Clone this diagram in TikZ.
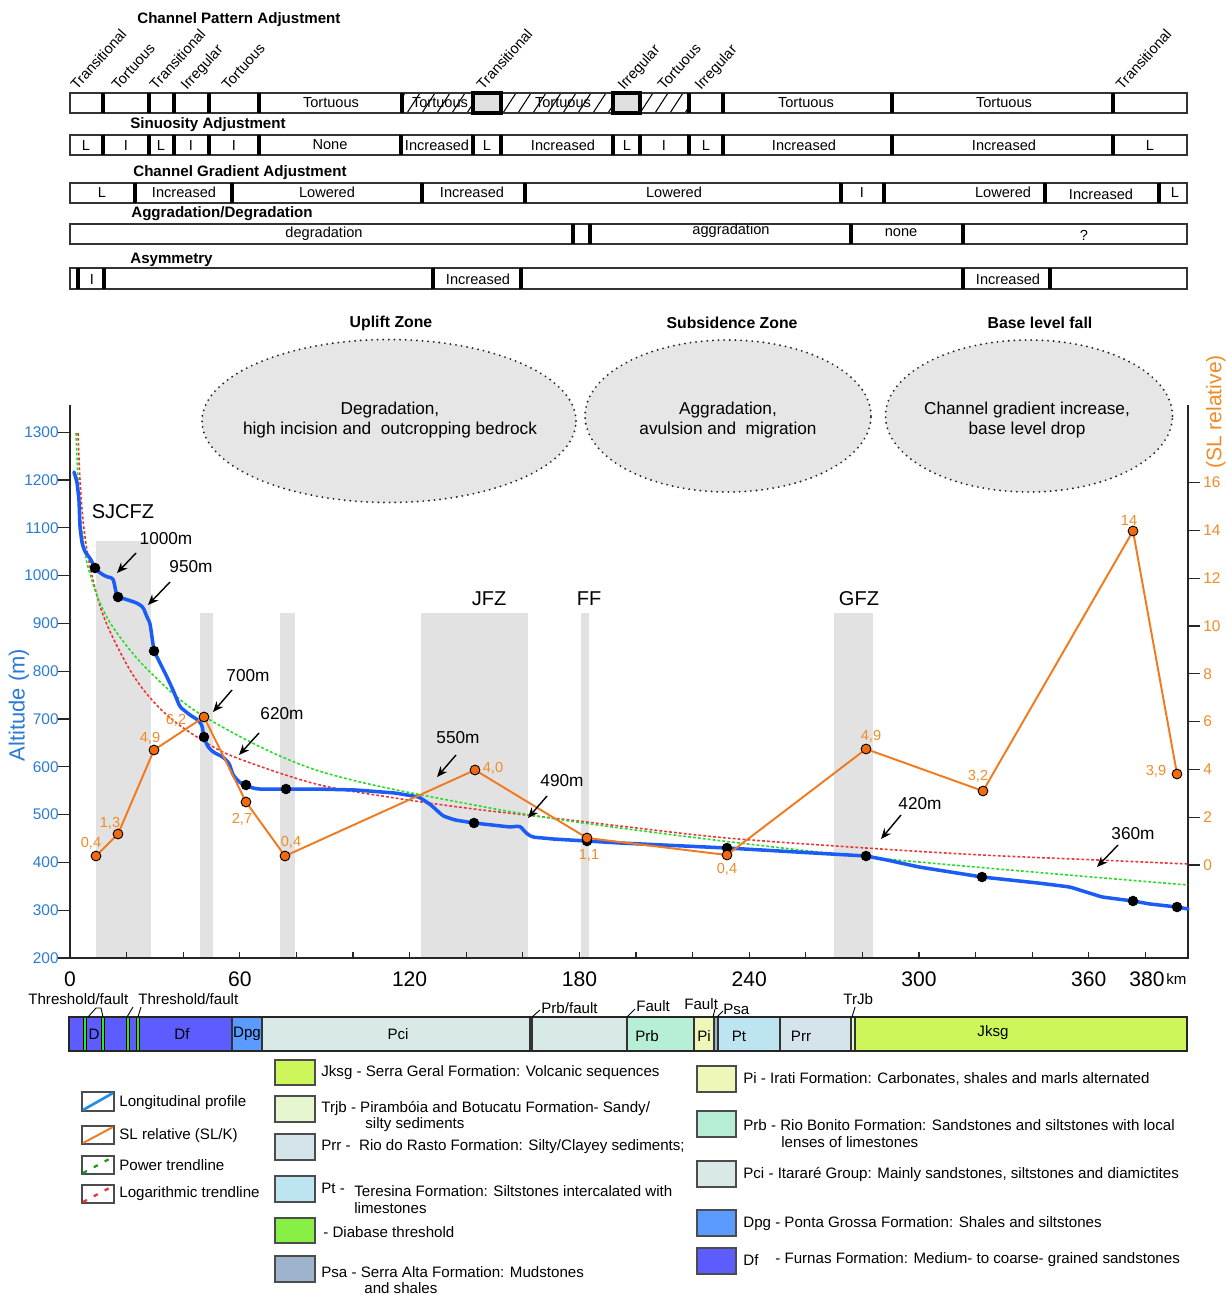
\documentclass[tikz,border=0pt]{standalone}
\usepackage{fontspec}
\setmainfont{Liberation Sans}
\usetikzlibrary{arrows.meta,shapes.geometric}
\definecolor{profblue}{HTML}{1B5CF5}
\definecolor{legblue}{HTML}{1E90E8}
\definecolor{slorange}{HTML}{F27A1E}
\definecolor{dotorange}{HTML}{F26A10}
\definecolor{axblue}{HTML}{2B7BD6}
\definecolor{axorange}{HTML}{F08C28}
\definecolor{bandgray}{HTML}{E2E2E2}
\definecolor{ellfill}{HTML}{E6E6E6}
\definecolor{cellgray}{HTML}{E0E0E0}
\definecolor{trgreen}{HTML}{22DD22}
\definecolor{trred}{HTML}{EE3333}
\definecolor{gdf}{HTML}{5C5CFF}
\definecolor{gdpg}{HTML}{5B9BFF}
\definecolor{gpci}{HTML}{D9E9E8}
\definecolor{gprb}{HTML}{B6EED6}
\definecolor{gpi}{HTML}{EEF7B8}
\definecolor{gpsa}{HTML}{9DB4CC}
\definecolor{gpt}{HTML}{BDE5F1}
\definecolor{gprr}{HTML}{D5E3EB}
\definecolor{gtrjb}{HTML}{E6F7D0}
\definecolor{gjksg}{HTML}{CCF65A}
\definecolor{gdiab}{HTML}{88F044}
\definecolor{gstripe}{HTML}{22EE22}
\newcommand{\fsA}{\fontsize{8.6}{10}\selectfont}
\newcommand{\fsT}{\fontsize{8.3}{10}\selectfont}
\newcommand{\fsB}{\fontsize{9.8}{11.4}\selectfont}
\newcommand{\fsC}{\fontsize{11.4}{13}\selectfont}
\newcommand{\fsD}{\fontsize{12}{14}\selectfont}
\begin{document}
\begin{tikzpicture}[x=0.02cm,y=-0.02cm,
  tbl/.style={draw=black!80, line width=0.7pt},
  dv/.style={line width=2.3pt},
  ct/.style={font=\fsT, inner sep=0pt},
  ttl/.style={font=\fsA\bfseries, anchor=west, inner sep=0pt},
  rl/.style={rotate=48, anchor=base west, font=\fsT, inner sep=0pt},
  hatchln/.style={line width=0.6pt},
  zone/.style={ellipse, draw=black!85, fill=ellfill, dash pattern=on 0pt off 3.2pt, line cap=round, line width=1.2pt, inner sep=0pt},
  zt/.style={font=\fsB, align=center, inner sep=0pt},
  zhead/.style={font=\fontsize{9}{11}\selectfont\bfseries, inner sep=0pt},
  fz/.style={font=\fsC, inner sep=0pt},
  arr/.style={-{Stealth[length=6pt,width=5pt]}, line width=0.8pt},
  ml/.style={font=\fsB, inner sep=0pt},
  ol/.style={font=\fontsize{8.3}{10}\selectfont, text=axorange, inner sep=0pt},
  lg/.style={font=\fsA, anchor=west, inner sep=0pt},
  sw/.style={draw=black!70, line width=0.6pt},
  gl/.style={font=\fsA, inner sep=0pt}]
\useasboundingbox (0,0) rectangle (1225,1294);
\fill[white] (0,0) rectangle (1225,1294);

% ---------- Row titles ----------
\node[ttl] (tt1) at (137,20) {Channel Pattern Adjustment};
\node[ttl] (tt2) at (130,125) {Sinuosity Adjustment};
\node[ttl] (tt3) at (133,173) {Channel Gradient Adjustment};
\node[ttl] (tt4) at (131,214) {Aggradation/Degradation};
\node[ttl] (tt5) at (130,260) {Asymmetry};

% ---------- Row 1 ----------
\fill[cellgray] (473,93) rectangle (501,113);
\fill[cellgray] (613,93) rectangle (640,113);
\begin{scope}
  \clip (402,93) rectangle (473,113);
  \foreach \h in {392,407,...,482} \draw[hatchln] (\h,113) -- ++(13,-20);
\end{scope}
\begin{scope}
  \clip (501,93) rectangle (613,113);
  \foreach \h in {503,518,...,623} \draw[hatchln] (\h,113) -- ++(13,-20);
\end{scope}
\begin{scope}
  \clip (640,93) rectangle (689,113);
  \foreach \h in {640,655,...,700} \draw[hatchln] (\h,113) -- ++(13,-20);
\end{scope}
\draw[tbl] (70,93) rectangle (1187,113);
\foreach \d in {103,149,174,209,259,402,473,501,613,640,689,723,892,1113} \draw[dv] (\d,93) -- (\d,113);
\draw[dv] (473,93) rectangle (501,113);
\draw[dv] (613,93) rectangle (640,113);
\foreach \x/\t [count=\i] in {331/Tortuous,440/Tortuous,563/Tortuous,806/Tortuous,1004/Tortuous}
  \node[ct] (ra\i) at (\x,103) {\t};
\foreach \x/\t [count=\i] in {77/Transitional,118/Tortuous,156/Transitional,187/Irregular,228/Tortuous,483/Transitional,624/Irregular,664/Tortuous,701/Irregular,1122/Transitional}
  \node[rl] (rl\i) at (\x,91) {\t};

% ---------- Row 2 ----------
\draw[tbl] (70,135) rectangle (1187,155);
\foreach \d in {103,149,174,209,259,401,473,501,613,640,689,723,892,1113} \draw[dv] (\d,135) -- (\d,155);
\foreach \x/\t [count=\i] in {86/L,126/I,161/L,191/I,234/I,330/None,437/Increased,487/L,563/Increased,627/L,664/I,706/L,804/Increased,1004/Increased,1150/L}
  \node[ct] (rb\i) at (\x,145) {\t};

% ---------- Row 3 ----------
\draw[tbl] (70,183) rectangle (1187,203);
\foreach \d in {135,232,422,525,841,884,1045,1159} \draw[dv] (\d,183) -- (\d,203);
\foreach \x/\t [count=\i] in {102/L,184/Increased,327/Lowered,472/Increased,674/Lowered,862/I,1003/Lowered,1175/L}
  \node[ct] (rc\i) at (\x,192) {\t};
\node[ct] (rc9) at (1101,194) {Increased};

% ---------- Row 4 ----------
\draw[tbl] (70,224) rectangle (1187,244);
\foreach \d in {573,590,851,963} \draw[dv] (\d,224) -- (\d,244);
\node[ct] (rd1) at (324,234) {degradation};
\node[ct] (rd2) at (731,231) {aggradation};
\node[ct] (rd3) at (901,233) {none};
\node[ct] (rd4) at (1084,235) {?};

% ---------- Row 5 ----------
\draw[tbl] (70,268) rectangle (1187,289);
\foreach \d in {78,104,433,521,963,1050} \draw[dv] (\d,268) -- (\d,289);
\node[ct] (re1) at (92,279) {I};
\node[ct] (re2) at (478,279) {Increased};
\node[ct] (re3) at (1008,279) {Increased};

% ---------- Zones ----------
\node[zhead] (zh1) at (391,323) {Uplift Zone};
\node[zhead] (zh2) at (732,323) {Subsidence Zone};
\node[zhead] (zh3) at (1040,323) {Base level fall};
\node[zone, minimum width=7.48cm, minimum height=3.26cm] (e1) at (389,421) {};
\node[zone, minimum width=5.72cm, minimum height=3.04cm] (e2) at (728,416) {};
\node[zone, minimum width=5.74cm, minimum height=3.04cm] (e3) at (1029,416) {};
\node[zt] (et1) at (390,420) {Degradation,\\high incision and\ \ outcropping bedrock};
\node[zt] (et2) at (728,420) {Aggradation,\\avulsion and\ \ migration};
\node[zt] (et3) at (1027,420) {Channel gradient increase,\\base level drop};

% ---------- Bands ----------
\fill[bandgray] (96,541) rectangle (151,958);
\fill[bandgray] (200,613) rectangle (213,958);
\fill[bandgray] (280,613) rectangle (295,958);
\fill[bandgray] (421,613) rectangle (528,958);
\fill[bandgray] (581,613) rectangle (589,958);
\fill[bandgray] (834,613) rectangle (873,958);
\node[fz] (fz1) at (123,512) {SJCFZ};
\node[fz] (fz2) at (489,599) {JFZ};
\node[fz] (fz3) at (589,599) {FF};
\node[fz] (fz4) at (859,599) {GFZ};

% ---------- Axes ----------
\draw[line width=0.8pt, black!85] (70,405) -- (70,958) -- (1188,958) -- (1188,405);
\foreach \a in {200,300,...,1300} {
  \draw[line width=0.7pt, black!85] (58,{958-(\a-200)*0.478}) -- (70,{958-(\a-200)*0.478});
  \node[font=\fontsize{8.8}{10}\selectfont, text=axblue, anchor=east, inner sep=0pt] (ya\a) at (59,{958-(\a-200)*0.478}) {\a};
}
\foreach \s in {0,2,...,16} {
  \draw[line width=0.7pt, black!85] (1188,{865-\s*23.9}) -- (1200,{865-\s*23.9});
  \node[font=\fontsize{8.8}{10}\selectfont, text=axorange, anchor=west, inner sep=0pt] (ys\s) at (1203,{865-\s*23.9}) {\s};
}
\foreach \k in {0,20,...,380} \draw[line width=0.7pt, black!85] ({70+\k*2.83},958) -- ({70+\k*2.83},952);
\foreach \k in {0,60,120,180,240,300,360} \node[font=\fsD, inner sep=0pt] (xk\k) at ({70+\k*2.83},979) {\k};
\node[font=\fsD, inner sep=0pt] (xk380) at (1147,979) {380};
\node[font=\fsA, anchor=west, inner sep=0pt] (xkm) at (1166,979) {km};
\node[font=\fontsize{12.5}{14}\selectfont, text=axblue, rotate=90, inner sep=0pt] (ylab) at (19,705) {Altitude (m)};
\node[font=\fsD, text=axorange, rotate=90, inner sep=0pt] (slab) at (1216,412) {(SL relative)};

% ---------- Trendlines ----------
\draw[trred, line width=0.9pt, dash pattern=on 1.6pt off 1.2pt] plot[smooth, tension=0.55] coordinates {(78,433) (80,480) (83,520) (87,550) (93,580) (102,612) (115,642) (133,675) (152,700) (174,721) (205,742) (237,758) (316,784) (395,798) (474,809) (553,818) (620,826) (727,838) (866,848) (982,855) (1098,860) (1188,864)};
\draw[trgreen, line width=0.9pt, dash pattern=on 1.6pt off 1.2pt] plot[smooth, tension=0.55] coordinates {(76,433) (78,480) (80,515) (84,545) (88,567) (100,603) (117,633) (150,672) (205,717) (316,770) (474,805) (620,828) (866,857) (1188,885)};

% ---------- Longitudinal profile ----------
\draw[profblue, line width=2pt, line join=round, line cap=round, rounded corners=1.5pt] (74,472) -- (77,482) -- (79,500) -- (80,527) -- (82,543) -- (85,552) -- (90,558) -- (95,568) -- (100,573) -- (107,577) -- (113,578) -- (115,587) -- (117,597) -- (125,599) -- (137,603) -- (143,607) -- (147,617) -- (150,623) -- (152,637) -- (154,651) -- (160,663) -- (167,677) -- (173,690) -- (180,707) -- (190,715) -- (198,720) -- (202,725) -- (204,738) -- (208,747) -- (213,752) -- (223,757) -- (229,763) -- (233,775) -- (239,782) -- (246,786) -- (257,789) -- (286,789) -- (316,789) -- (356,790) -- (395,793) -- (419,797) -- (431,805) -- (443,816) -- (455,820) -- (474,823) -- (510,827) -- (520,826) -- (526,833) -- (532,837) -- (553,839) -- (587,841) -- (620,843) -- (727,848) -- (866,856) -- (887,860) -- (919,867) -- (982,877) -- (1038,883) -- (1070,887) -- (1102,897) -- (1133,901) -- (1150,904) -- (1177,907) -- (1188,909);
\foreach \x/\y in {95/568,118/597,154/651,204/737,246/785,286/789,474/823,587/841,727/848,866/856,982/877,1133/901,1177/907}
  \fill[black] (\x,\y) circle[radius=3pt];

% ---------- SL relative ----------
\draw[slorange, line width=1.1pt, line join=round] (96,856) -- (118,834) -- (154,750) -- (204,717) -- (246,802) -- (285,856) -- (475,770) -- (587,838) -- (727,855) -- (866,749) -- (983,791) -- (1133,531) -- (1177,774);
\foreach \x/\y in {96/856,118/834,154/750,204/717,246/802,285/856,475/770,587/838,727/855,866/749,983/791,1133/531,1177/774}
  \filldraw[fill=dotorange, draw=black, line width=0.5pt] (\x,\y) circle[radius=2.8pt];
\foreach \x/\y/\t [count=\i] in {91/843/{0,4},110/823/{1,3},150/738/{4,9},176/720/{6,2},242/819/{2,7},291/842/{0,4},493/768/{4,0},589/855/{1,1},727/869/{0,4},871/736/{4,9},978/776/{3,2},1129/520/{14},1156/771/{3,9}}
  \node[ol] (sl\i) at (\x,\y) {\t};

% ---------- Arrows with labels ----------
\node[ml] (m1) at (166,539) {1000m};
\node[ml] (m2) at (191,567) {950m};
\node[ml] (m3) at (248,676) {700m};
\node[ml] (m4) at (282,714) {620m};
\node[ml] (m5) at (458,738) {550m};
\node[ml] (m6) at (562,781) {490m};
\node[ml] (m7) at (920,804) {420m};
\node[ml] (m8) at (1133,834) {360m};
\coordinate (a1s) at (136,553); \coordinate (a1e) at (117,573);
\coordinate (a2s) at (170,582); \coordinate (a2e) at (148,605);
\coordinate (a3s) at (232,690); \coordinate (a3e) at (213,712);
\coordinate (a4s) at (259,733); \coordinate (a4e) at (239,755);
\coordinate (a5s) at (456,755); \coordinate (a5e) at (437,777);
\coordinate (a6s) at (547,796); \coordinate (a6e) at (528,818);
\coordinate (a7s) at (901,815); \coordinate (a7e) at (881,839);
\coordinate (a8s) at (1118,845); \coordinate (a8e) at (1097,867);
\foreach \i in {1,...,8} \draw[arr] (a\i s) -- (a\i e);

% ---------- Geological bar ----------
\fill[gdf] (69,1017) rectangle (232,1051);
\foreach \a/\b in {83/86,101/104,126/129,136/139.5}
  \filldraw[fill=gstripe, draw=black, line width=0.4pt] (\a,1017) rectangle (\b,1051);
\filldraw[fill=gdpg, draw=black!80, line width=0.6pt] (232,1017) rectangle (262,1051);
\filldraw[fill=gpci, draw=black!80, line width=0.6pt] (262,1017) rectangle (530,1051);
\filldraw[fill=gpci, draw=black!80, line width=0.6pt] (532,1017) rectangle (627,1051);
\filldraw[fill=gprb, draw=black!80, line width=0.6pt] (627,1017) rectangle (694,1051);
\filldraw[fill=gpi, draw=black!80, line width=0.6pt] (694,1017) rectangle (714,1051);
\filldraw[fill=gpsa, draw=black!80, line width=0.6pt] (714,1017) rectangle (718,1051);
\filldraw[fill=gpt, draw=black!80, line width=0.6pt] (718,1017) rectangle (780,1051);
\filldraw[fill=gprr, draw=black!80, line width=0.6pt] (780,1017) rectangle (851,1051);
\filldraw[fill=gtrjb, draw=black!80, line width=0.6pt] (851,1017) rectangle (855,1051);
\filldraw[fill=gjksg, draw=black!80, line width=0.6pt] (855,1017) rectangle (1187,1051);
\draw[black!85, line width=0.8pt] (69,1017) rectangle (1187,1051);
\node[gl] (gD) at (94,1034) {D};
\node[gl] (gDf) at (182,1034) {Df};
\node[gl] (gDpg) at (247,1034) {Dpg};
\node[gl] (gPci) at (398,1034) {Pci};
\node[gl] (gPrb) at (647,1036) {Prb};
\node[gl] (gPi) at (704,1036) {Pi};
\node[gl] (gPt) at (739,1036) {Pt};
\node[gl] (gPrr) at (801,1036) {Prr};
\node[gl] (gJ) at (993,1033) {Jksg};
\node[gl, anchor=west] (lt1) at (28,999) {Threshold/fault};
\node[gl, anchor=west] (lt2) at (138,999) {Threshold/fault};
\node[gl, anchor=west] (lt3) at (541,1008) {Prb/fault};
\node[gl, anchor=west] (lt4) at (636,1006) {Fault};
\node[gl, anchor=west] (lt5) at (684,1004) {Fault};
\node[gl, anchor=west] (lt6) at (723,1009) {Psa};
\node[gl, anchor=west] (lt7) at (843,999) {TrJb};
\draw[line width=0.5pt] (88,1017) -- (96,1008) -- (101,1008) -- (103,1017);
\draw[line width=0.5pt] (127,1017) -- (133,1007);
\draw[line width=0.5pt] (138,1017) -- (141,1007);
\draw[line width=0.5pt] (532,1017) -- (540,1010);
\draw[line width=0.5pt] (627,1017) -- (635,1009);
\draw[line width=0.5pt] (713,1017) -- (715,1009);
\draw[line width=0.5pt] (717,1017) -- (723,1011);
\draw[line width=0.5pt] (852,1017) -- (855,1007);

% ---------- Legend (symbols) ----------
\draw[sw] (82,1092) rectangle (114,1111);
\draw[legblue, line width=1.5pt] (83,1110) -- (113,1093);
\draw[sw] (82,1126) rectangle (114,1144);
\draw[slorange, line width=1.1pt] (83,1143) -- (113,1127);
\draw[sw] (82,1156) rectangle (114,1174);
\draw[trgreen!70!black, line width=1.3pt, dash pattern=on 2.5pt off 4.5pt] (83,1173) -- (113,1157);
\draw[sw] (82,1185) rectangle (114,1203);
\draw[trred, line width=1.3pt, dash pattern=on 2.5pt off 4.5pt] (83,1202) -- (113,1186);
\node[lg] (L1) at (119,1103) {Longitudinal profile};
\node[lg] (L2) at (119,1136) {SL relative (SL/K)};
\node[lg] (L3) at (119,1165) {Power trendline};
\node[lg] (L4) at (119,1194) {Logarithmic trendline};

% ---------- Legend (formations, middle) ----------
\filldraw[sw, fill=gjksg] (275,1060) rectangle (315,1085);
\filldraw[sw, fill=gtrjb] (275,1096) rectangle (315,1122);
\filldraw[sw, fill=gprr] (275,1134) rectangle (315,1160);
\filldraw[sw, fill=gpt] (275,1176) rectangle (315,1202);
\filldraw[sw, fill=gdiab] (275,1218) rectangle (315,1243);
\filldraw[sw, fill=gpsa] (275,1256) rectangle (315,1282);
\node[lg] (F1) at (321,1073) {Jksg - Serra Geral Formation: Volcanic sequences};
\node[lg] (F2) at (321,1108) {Trjb - Pirambóia and Botucatu Formation- Sandy/};
\node[lg] (F2b) at (365,1125) {silty sediments};
\node[lg] (F3) at (321,1147) {Prr -\ \ Rio do Rasto Formation: Silty/Clayey sediments;};
\node[lg] (F4) at (321,1188) {Pt -};
\node[lg] (F4a) at (354,1191) {Teresina Formation: Siltstones intercalated with};
\node[lg] (F4b) at (354,1208) {limestones};
\node[lg] (F5) at (323,1232) {- Diabase threshold};
\node[lg] (F6) at (321,1272) {Psa - Serra Alta Formation: Mudstones};
\node[lg] (F6b) at (364,1288) {and shales};

% ---------- Legend (formations, right) ----------
\filldraw[sw, fill=gpi] (697,1066) rectangle (736,1092);
\filldraw[sw, fill=gprb] (697,1111) rectangle (736,1137);
\filldraw[sw, fill=gpci] (697,1161) rectangle (736,1187);
\filldraw[sw, fill=gdpg] (697,1210) rectangle (736,1236);
\filldraw[sw, fill=gdf] (697,1248) rectangle (736,1274);
\node[lg] (G1) at (743,1079) {Pi - Irati Formation: Carbonates, shales and marls alternated};
\node[lg] (G2) at (743,1125) {Prb - Rio Bonito Formation: Sandstones and siltstones with local};
\node[lg] (G2b) at (781,1142) {lenses of limestones};
\node[lg] (G3) at (743,1174) {Pci - Itararé Group: Mainly sandstones, siltstones and diamictites};
\node[lg] (G4) at (743,1224) {Dpg - Ponta Grossa Formation: Shales and siltstones};
\node[lg] (G5) at (743,1260) {Df};
\node[lg] (G5b) at (775,1260) {- Furnas Formation: Medium- to coarse- grained sandstones};
\end{tikzpicture}
\end{document}
